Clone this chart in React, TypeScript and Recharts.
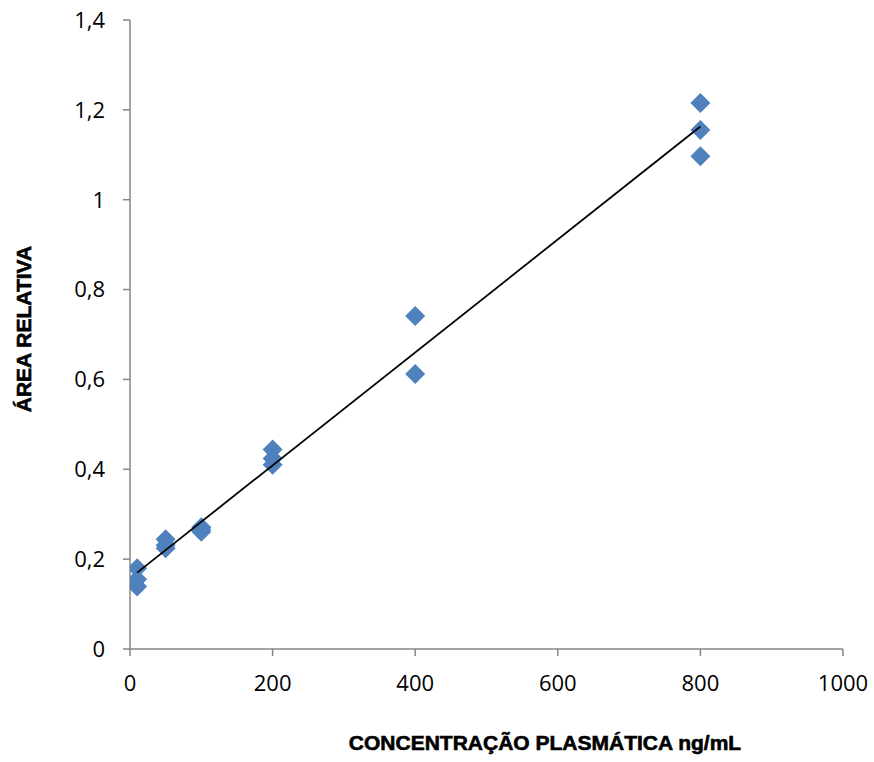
import React from "react";
import { ScatterChart, Scatter, XAxis, YAxis, Label } from "recharts";

// concentração (ng/mL) e área relativa
const concentracao = [10, 10, 10, 50, 50, 50, 100, 100, 100, 200, 200, 200, 400, 400, 800, 800, 800];
const areaRelativa = [0.18, 0.155, 0.139, 0.244, 0.231, 0.224, 0.271, 0.266, 0.261, 0.444, 0.424, 0.41, 0.741, 0.612, 1.215, 1.155, 1.097];

// linha de tendência (extremos)
const tendenciaX = [10, 800];
const tendenciaY = [0.17, 1.163];

const xTicks = [0, 200, 400, 600, 800, 1000];
const yTicks = [0, 0.2, 0.4, 0.6, 0.8, 1, 1.2, 1.4];

const pontos = concentracao.map((x, i) => ({ x, y: areaRelativa[i] }));
const tendencia = tendenciaX.map((x, i) => ({ x, y: tendenciaY[i] }));

const AXIS = "#868686";
const BLUE = "#4F81BD";
const tickStyle = { fontSize: 22, fill: "#000", fontFamily: "'Open Sans', sans-serif" };
const titleStyle = { fontSize: 21, fontWeight: 700, fontFamily: "'Liberation Sans', Arial, sans-serif" };

function Diamond(props: any) {
  const { cx, cy } = props;
  if (cx == null || cy == null) return null;
  const r = 10;
  return (
    <polygon
      points={`${cx},${cy - r} ${cx + r},${cy} ${cx},${cy + r} ${cx - r},${cy}`}
      fill={BLUE}
    />
  );
}

export default function App() {
  return (
    <div style={{ position: "absolute", left: 0, top: 0, background: "#fff" }}>
      <ScatterChart width={874} height={762} margin={{ top: 20, right: 31, bottom: 0, left: 0 }}>
        <XAxis
          type="number"
          dataKey="x"
          domain={[0, 1000]}
          ticks={xTicks}
          stroke={AXIS}
          strokeWidth={1.5}
          tickSize={7}
          tickMargin={19}
          tick={tickStyle}
          height={113}
          allowDataOverflow
        >
          <Label
            content={() => (
              <text x={545} y={750} textAnchor="middle" style={titleStyle} fill="#000" stroke="#000" strokeWidth={0.6}>
                CONCENTRAÇÃO PLASMÁTICA ng/mL
              </text>
            )}
          />
        </XAxis>
        <YAxis
          type="number"
          dataKey="y"
          domain={[0, 1.4]}
          ticks={yTicks}
          stroke={AXIS}
          strokeWidth={1.5}
          tickSize={7}
          tickMargin={18}
          tick={tickStyle}
          width={130}
          tickFormatter={(v: number) => String(v).replace(".", ",")}
          allowDataOverflow
        >
          <Label
            content={() => (
              <text
                x={31}
                y={329}
                transform="rotate(-90 31 329)"
                textAnchor="middle"
                style={titleStyle}
                fill="#000"
                stroke="#000"
                strokeWidth={0.6}
              >
                ÁREA RELATIVA
              </text>
            )}
          />
        </YAxis>
        <Scatter data={pontos} shape={<Diamond />} isAnimationActive={false} />
        <Scatter
          data={tendencia}
          line={{ stroke: "#000", strokeWidth: 1.8 }}
          lineType="joint"
          shape={() => <g />}
          isAnimationActive={false}
        />
      </ScatterChart>
    </div>
  );
}
